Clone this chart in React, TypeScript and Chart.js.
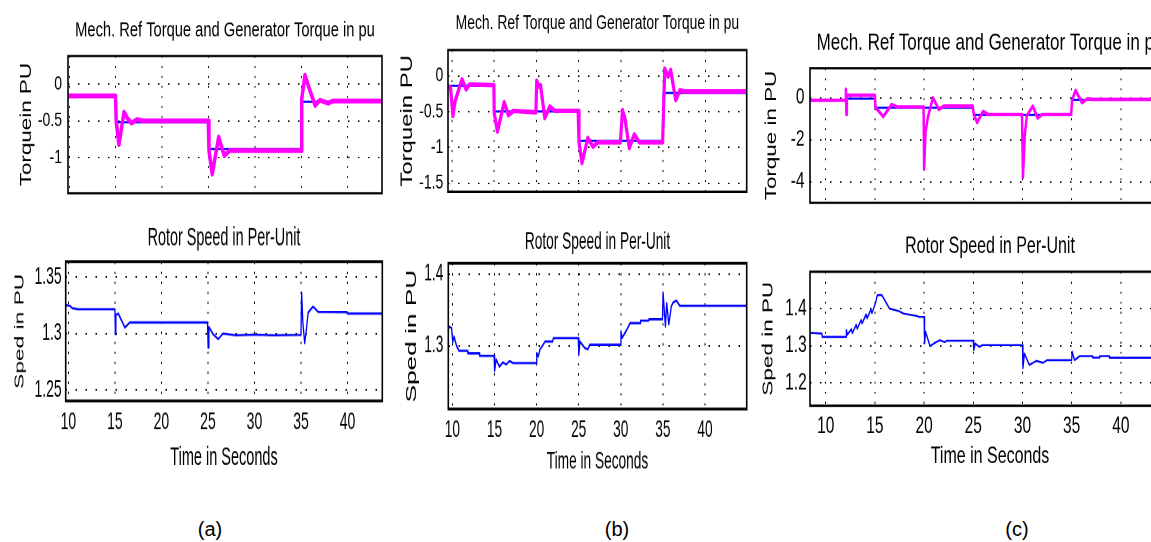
import React, { useEffect, useRef } from "react";
import { Chart, registerables } from "chart.js";

Chart.register(...registerables);

const FONT = "'Liberation Sans', Arial, Helvetica, sans-serif";
const MAGENTA = "#ff00ff";
const BLUE = "#0000ff";

// ---- tick values / labels ----
const timeTicks = [10, 15, 20, 25, 30, 35, 40];
const timeTickLabels = ["10", "15", "20", "25", "30", "35", "40"];

const aTorqueTicks = [-1, -0.5, 0];
const aTorqueTickLabels = ["-1", "-0.5", "0"];
const aSpeedTicks = [1.25, 1.3, 1.35];
const aSpeedTickLabels = ["1.25", "1.3", "1.35"];
const bTorqueTicks = [-1.5, -1, -0.5, 0];
const bTorqueTickLabels = ["-1.5", "-1", "-0.5", "0"];
const bSpeedTicks = [1.3, 1.4];
const bSpeedTickLabels = ["1.3", "1.4"];
const cTorqueTicks = [-4, -2, 0];
const cTorqueTickLabels = ["-4", "-2", "0"];
const cSpeedTicks = [1.2, 1.3, 1.4];
const cSpeedTickLabels = ["1.2", "1.3", "1.4"];

// ---- panel (a) ----
const aGenTime = [9.86, 14.98, 15.05, 15.35, 15.9, 16.3, 16.7, 17.3, 18.0, 24.98, 25.05, 25.4, 26.1, 26.7, 27.3, 34.98, 35.05, 35.4, 35.8, 36.5, 37.0, 37.9, 38.4, 43.7];
const aGenTorque = [-0.16, -0.16, -0.5, -0.82, -0.38, -0.47, -0.53, -0.48, -0.5, -0.5, -0.9, -1.22, -0.72, -0.97, -0.9, -0.9, -0.2, 0.12, -0.04, -0.29, -0.22, -0.26, -0.23, -0.23];
const aRefTime = [9.86, 15, 25, 35, 43.7];
const aRefTorque = [-0.16, -0.52, -0.88, -0.24, -0.24];
const aSpeedTime = [9.71, 10.2, 10.4, 11.0, 15.0, 15.05, 15.1, 15.36, 16.07, 16.6, 24.95, 25.02, 25.1, 25.5, 26.1, 26.6, 28.0, 30.0, 32.0, 35.0, 35.07, 35.2, 35.4, 35.6, 35.77, 36.3, 36.85, 39.9, 40.0, 43.74];
const aSpeed = [1.3254, 1.3245, 1.3225, 1.3216, 1.3216, 1.2994, 1.3165, 1.3178, 1.3053, 1.3098, 1.3098, 1.2876, 1.306, 1.3, 1.295, 1.3, 1.2985, 1.299, 1.2985, 1.2988, 1.3364, 1.31, 1.2914, 1.305, 1.3186, 1.324, 1.3192, 1.319, 1.3178, 1.3178];

// ---- panel (b) ----
const bGenTime = [9.55, 9.85, 10.13, 10.4, 11.2, 11.7, 12.1, 14.98, 15.02, 15.4, 16.2, 16.7, 17.3, 19.95, 20.05, 20.3, 20.5, 21.0, 21.6, 22.2, 24.95, 25.05, 25.4, 26.1, 26.7, 27.3, 29.95, 30.2, 30.5, 31.0, 31.6, 32.2, 34.95, 35.2, 35.6, 35.9, 36.5, 37.0, 37.5, 44.9];
const bGenTorque = [-0.15, -0.16, -0.56, -0.35, -0.05, -0.19, -0.12, -0.13, -0.52, -0.78, -0.37, -0.55, -0.49, -0.51, -0.07, -0.15, -0.13, -0.59, -0.43, -0.49, -0.49, -0.92, -1.22, -0.87, -0.99, -0.93, -0.93, -0.48, -0.6, -1.01, -0.82, -0.93, -0.93, 0.1, -0.01, 0.08, -0.34, -0.2, -0.22, -0.22];
const bRefTime = [9.55, 15, 25, 35, 44.9];
const bRefTorque = [-0.14, -0.5, -0.91, -0.24, -0.24];
const bSpeedTime = [9.52, 9.9, 10.05, 10.2, 10.5, 10.8, 11.8, 11.85, 13.2, 13.25, 14.95, 15.02, 15.2, 15.6, 16.0, 16.4, 16.8, 17.2, 19.95, 20.02, 20.2, 20.4, 20.8, 21.0, 21.9, 22.0, 24.95, 25.02, 25.15, 25.75, 26.1, 26.3, 29.95, 30.02, 30.15, 30.7, 31.1, 32.3, 32.35, 33.3, 33.35, 34.95, 35.02, 35.3, 35.45, 35.7, 36.0, 36.2, 36.6, 37.0, 44.95];
const bSpeed = [1.327, 1.325, 1.305, 1.313, 1.3, 1.293, 1.293, 1.2895, 1.2895, 1.286, 1.286, 1.265, 1.281, 1.271, 1.277, 1.274, 1.279, 1.276, 1.276, 1.29, 1.285, 1.295, 1.302, 1.306, 1.306, 1.3107, 1.3107, 1.2874, 1.306, 1.2967, 1.2953, 1.3014, 1.3014, 1.32, 1.311, 1.322, 1.3316, 1.3316, 1.335, 1.335, 1.337, 1.337, 1.3744, 1.327, 1.3595, 1.33, 1.355, 1.36, 1.363, 1.3558, 1.3558];

// ---- panel (c) ----
const cGenTime = [8.4, 12.0, 12.05, 12.1, 12.15, 15.0, 15.05, 15.85, 16.7, 17.3, 19.95, 20.0, 20.15, 20.4, 20.9, 21.5, 22.0, 24.95, 25.05, 25.4, 26.0, 26.5, 29.95, 30.05, 30.25, 30.45, 31.05, 31.55, 32.0, 34.95, 35.05, 35.4, 36.05, 36.6, 37.0, 45];
const cGenTorque = [-0.12, -0.12, 0.4, -0.8, 0.12, 0.12, -0.45, -0.9, -0.32, -0.44, -0.44, -3.4, -1.6, -0.9, 0.0, -0.56, -0.4, -0.4, -0.8, -1.18, -0.65, -0.8, -0.8, -3.8, -1.7, -0.85, -0.4, -0.97, -0.8, -0.8, -0.1, 0.35, -0.24, -0.05, -0.08, -0.08];
const cRefTime = [8.4, 12.05, 15, 25, 35, 45];
const cRefTorque = [-0.12, -0.05, -0.48, -0.82, -0.1, -0.1];
const cSpeedTime = [8.4, 9.6, 9.65, 12.06, 12.1, 12.2, 12.6, 12.7, 13.1, 13.2, 13.6, 13.7, 14.1, 14.2, 14.6, 14.7, 15.05, 15.25, 15.7, 16.5, 17.4, 17.9, 19.2, 19.5, 20.0, 20.05, 20.15, 20.6, 21.1, 21.6, 22.1, 22.3, 25.0, 25.05, 25.2, 25.6, 25.95, 30.0, 30.05, 30.2, 30.7, 31.4, 32.1, 32.5, 35.0, 35.05, 35.3, 35.8, 37.1, 37.15, 37.8, 37.85, 38.8, 38.85, 45];
const cSpeed = [1.335, 1.333, 1.324, 1.324, 1.343, 1.33, 1.345, 1.334, 1.357, 1.346, 1.37, 1.36, 1.385, 1.374, 1.398, 1.388, 1.415, 1.437, 1.437, 1.4, 1.394, 1.387, 1.381, 1.378, 1.378, 1.306, 1.338, 1.299, 1.308, 1.315, 1.31, 1.3135, 1.3135, 1.288, 1.306, 1.297, 1.302, 1.302, 1.239, 1.279, 1.248, 1.259, 1.254, 1.261, 1.261, 1.284, 1.261, 1.272, 1.272, 1.268, 1.268, 1.272, 1.272, 1.2676, 1.2676];

const TORQUE_TITLE = "Mech. Ref Torque and Generator Torque in pu";
const SPEED_TITLE = "Rotor Speed in Per-Unit";
const TIME_TITLE = "Time in Seconds";

const PANELS = [
  {
    id: "at", X0: 0, Y0: 0, sy: 1.4, CW: 384, CH: 154, padR: 2, yAxisW: 68, xAxisH: 16,
    title: TORQUE_TITLE, titleSize: 14.7, titlePadT: 14.75, titlePadB: 10.55,
    yTitle: "Torquein PU", yTitleSize: 16, yTitlePad: 18.7, yTickPad: 6, tickSize: 14,
    showX: false, xMin: 9.86, xMax: 43.7, yMin: -1.48, yMax: 0.38,
    yTicks: aTorqueTicks, yLabels: aTorqueTickLabels,
    series: [
      { t: aGenTime, v: aGenTorque, color: MAGENTA, width: 3.5 },
      { t: aRefTime, v: aRefTorque, color: BLUE, width: 1.5, stepped: true },
    ],
  },
  {
    id: "ab", X0: 0, Y0: 220, sy: 1.75, CW: 384, CH: 146, padR: 1.7, yAxisW: 65.7, xAxisH: 42.6,
    title: SPEED_TITLE, titleSize: 14.4, titlePadT: 3.3, titlePadB: 6.1,
    yTitle: "Sped in PU", yTitleSize: 13, yTitlePad: 13.5, yTickPad: 4, tickSize: 14,
    showX: true, xTickPad: 5, xTitleSize: 14.5, xTitlePadB: 2.75,
    xMin: 9.71, xMax: 43.74, yMin: 1.2402, yMax: 1.3638,
    yTicks: aSpeedTicks, yLabels: aSpeedTickLabels,
    series: [{ t: aSpeedTime, v: aSpeed, color: BLUE, width: 1.3 }],
  },
  {
    id: "bt", X0: 380, Y0: 0, sy: 1.45, CW: 369, CH: 148, padR: 2.3, yAxisW: 68, xAxisH: 15.8,
    title: TORQUE_TITLE, titleSize: 13.9, titlePadT: 9.45, titlePadB: 11.15,
    yTitle: "Torquein PU", yTitleSize: 16.5, yTitlePad: 19.25, yTickPad: 4.7, tickSize: 14,
    showX: false, xMin: 9.55, xMax: 44.9, yMin: -1.62, yMax: 0.36,
    yTicks: bTorqueTicks, yLabels: bTorqueTickLabels,
    series: [
      { t: bGenTime, v: bGenTorque, color: MAGENTA, width: 3.2 },
      { t: bRefTime, v: bRefTorque, color: BLUE, width: 1.5, stepped: true },
    ],
  },
  {
    id: "bb", X0: 380, Y0: 220, sy: 1.75, CW: 369, CH: 146, padR: 2.3, yAxisW: 68.3, xAxisH: 38,
    title: SPEED_TITLE, titleSize: 13.7, titlePadT: 5.75, titlePadB: 5.25,
    yTitle: "Sped in PU", yTitleSize: 15, yTitlePad: 24.2, yTickPad: 5, tickSize: 13.7,
    showX: true, xTickPad: 5.55, xTitleSize: 13.7, xTitlePadB: 1.05,
    xMin: 9.52, xMax: 44.95, yMin: 1.212, yMax: 1.415,
    yTicks: bSpeedTicks, yLabels: bSpeedTickLabels,
    series: [{ t: bSpeedTime, v: bSpeed, color: BLUE, width: 1.3 }],
  },
  {
    id: "ct", X0: 760, Y0: 0, sy: 1.4, CW: 412, CH: 161, padR: 2, yAxisW: 50, xAxisH: 16.2,
    title: TORQUE_TITLE, titleSize: 17, titlePadT: 22.4, titlePadB: 9.4,
    yTitle: "Torque in PU", yTitleSize: 16, yTitlePad: 3.7, yTickPad: 5.5, tickSize: 15.5,
    showX: false, xMin: 8.4, xMax: 45, yMin: -5, yMax: 1.4,
    yTicks: cTorqueTicks, yLabels: cTorqueTickLabels,
    series: [
      { t: cGenTime, v: cGenTorque, color: MAGENTA, width: 2.5 },
      { t: cRefTime, v: cRefTorque, color: BLUE, width: 1.5, stepped: true },
    ],
  },
  {
    id: "cb", X0: 760, Y0: 220, sy: 1.5, CW: 412, CH: 168, padR: 2, yAxisW: 50, xAxisH: 44.2,
    title: SPEED_TITLE, titleSize: 16, titlePadT: 9.8, titlePadB: 8.7,
    yTitle: "Sped in PU", yTitleSize: 15, yTitlePad: 0.8, yTickPad: 3.3, tickSize: 15.5,
    showX: true, xTickPad: 6.25, xTitleSize: 16, xTitlePadB: 2.2,
    xMin: 8.4, xMax: 45, yMin: 1.138, yMax: 1.5,
    yTicks: cSpeedTicks, yLabels: cSpeedTickLabels,
    series: [{ t: cSpeedTime, v: cSpeed, color: BLUE, width: 1.3 }],
  },
];

const CAPTIONS = [
  { text: "(a)", cx: 210 },
  { text: "(b)", cx: 617 },
  { text: "(c)", cx: 1017 },
];

function zip(t: number[], v: number[]) {
  return t.map((x, i) => ({ x, y: v[i] }));
}

const framePlugin = {
  id: "frame",
  afterDraw(chart: any) {
    const { ctx, chartArea } = chart;
    const { left, top, right, bottom } = chartArea;
    ctx.save();
    ctx.strokeStyle = "#000";
    ctx.lineWidth = 1.6;
    ctx.strokeRect(left, top, right - left, bottom - top);
    ctx.restore();
  },
};

function Panel({ p }: { p: any }) {
  const ref = useRef<HTMLCanvasElement>(null);
  useEffect(() => {
    const xDash = [1.3, 10 / p.sy - 1.3];
    const yDash = [1.5, 8.5];
    const chart = new Chart(ref.current as HTMLCanvasElement, {
      type: "line",
      data: {
        datasets: p.series.map((s: any) => ({
          data: zip(s.t, s.v),
          borderColor: s.color,
          backgroundColor: s.color,
          borderWidth: s.width,
          pointRadius: 0,
          tension: 0,
          fill: false,
          stepped: s.stepped ? "before" : false,
          borderJoinStyle: "round",
          borderCapStyle: "butt",
        })),
      },
      options: {
        animation: false,
        responsive: true,
        maintainAspectRatio: false,
        devicePixelRatio: 2,
        events: [],
        layout: { padding: { top: 0, left: 0, right: p.padR, bottom: 0 } },
        plugins: {
          legend: { display: false },
          tooltip: { enabled: false },
          title: {
            display: true,
            text: p.title,
            color: "#000",
            fullSize: false,
            font: { family: FONT, size: p.titleSize, weight: "normal", lineHeight: 1 },
            padding: { top: p.titlePadT, bottom: p.titlePadB },
          },
        },
        scales: {
          x: {
            type: "linear",
            min: p.xMin,
            max: p.xMax,
            afterBuildTicks: (s: any) => {
              s.ticks = timeTicks.map((v) => ({ value: v }));
            },
            afterFit: (s: any) => {
              s.height = p.xAxisH;
            },
            ticks: {
              display: p.showX,
              callback: (_v: any, i: number) => timeTickLabels[i],
              color: "#000",
              autoSkip: false,
              maxRotation: 0,
              padding: p.xTickPad || 0,
              font: { family: FONT, size: p.tickSize, lineHeight: 1 },
            },
            grid: { color: "#000", lineWidth: 1, drawTicks: false },
            border: { display: false, dash: xDash },
            title: p.showX
              ? {
                  display: true,
                  text: TIME_TITLE,
                  color: "#000",
                  font: { family: FONT, size: p.xTitleSize, lineHeight: 1 },
                  padding: { top: 0, bottom: p.xTitlePadB },
                }
              : { display: false },
          },
          y: {
            type: "linear",
            min: p.yMin,
            max: p.yMax,
            afterBuildTicks: (s: any) => {
              s.ticks = p.yTicks.map((v: number) => ({ value: v }));
            },
            afterFit: (s: any) => {
              s.width = p.yAxisW;
            },
            ticks: {
              callback: (_v: any, i: number) => p.yLabels[i],
              color: "#000",
              autoSkip: false,
              padding: p.yTickPad,
              font: { family: FONT, size: p.tickSize, lineHeight: 1 },
            },
            grid: { color: "#000", lineWidth: 1, drawTicks: false },
            border: { display: false, dash: yDash },
            title: {
              display: true,
              text: p.yTitle,
              color: "#000",
              font: { family: FONT, size: p.yTitleSize, lineHeight: 1 },
              padding: { top: p.yTitlePad, bottom: 0 },
            },
          },
        },
      } as any,
      plugins: [framePlugin],
    });
    return () => chart.destroy();
  }, []);
  return (
    <div
      style={{
        position: "absolute",
        left: p.X0,
        top: p.Y0,
        width: p.CW,
        height: p.CH,
        transform: `scale(1, ${p.sy})`,
        transformOrigin: "0 0",
      }}
    >
      <canvas ref={ref} />
    </div>
  );
}

export default function App() {
  return (
    <div
      style={{
        position: "absolute",
        left: 0,
        top: 0,
        width: 1151,
        height: 542,
        overflow: "hidden",
        background: "#fff",
      }}
    >
      {PANELS.map((p) => (
        <Panel key={p.id} p={p} />
      ))}
      {CAPTIONS.map((c) => (
        <div
          key={c.text}
          style={{
            position: "absolute",
            left: c.cx - 40,
            top: 518,
            width: 80,
            textAlign: "center",
            fontFamily: FONT,
            fontSize: 20,
            lineHeight: "22px",
            color: "#000",
          }}
        >
          {c.text}
        </div>
      ))}
    </div>
  );
}
